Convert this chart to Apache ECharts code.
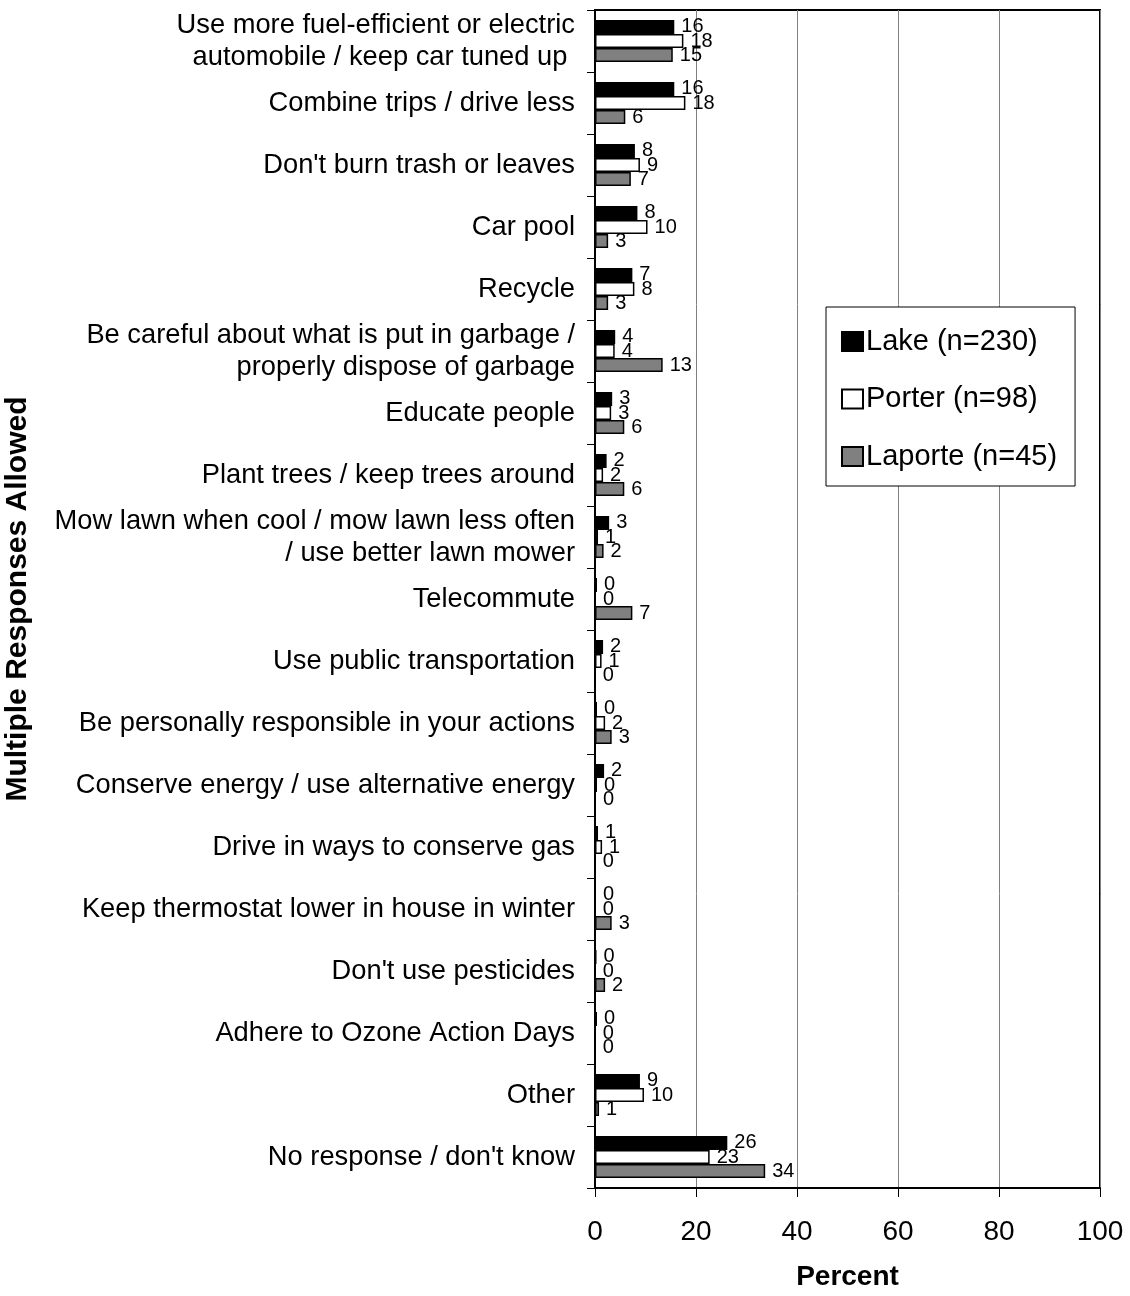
<!DOCTYPE html>
<html><head><meta charset="utf-8">
<script src="https://cdn.jsdelivr.net/npm/echarts@6/dist/echarts.min.js"></script>
<style>html,body{margin:0;padding:0;background:#fff}#c{width:1130px;height:1296px}</style>
</head><body><div id="c"></div>
<script>
const categories = [
  "Use more fuel-efficient or electric\nautomobile / keep car tuned up ",
  "Combine trips / drive less",
  "Don't burn trash or leaves",
  "Car pool",
  "Recycle",
  "Be careful about what is put in garbage /\nproperly dispose of garbage",
  "Educate people",
  "Plant trees / keep trees around",
  "Mow lawn when cool / mow lawn less often\n/ use better lawn mower",
  "Telecommute",
  "Use public transportation",
  "Be personally responsible in your actions",
  "Conserve energy / use alternative energy",
  "Drive in ways to conserve gas",
  "Keep thermostat lower in house in winter",
  "Don't use pesticides",
  "Adhere to Ozone Action Days",
  "Other",
  "No response / don't know"
];
const lake    = [15.7, 15.7, 7.9, 8.4, 7.4, 4.0, 3.4, 2.3, 2.8, 0.4, 1.6, 0.4, 1.8, 0.6, 0.1, 0.3, 0.4, 8.9, 26.2];
const porter  = [17.5, 17.9, 8.9, 10.4, 7.8, 3.9, 3.2, 1.6, 0.6, 0.1, 1.3, 2.0, 0.4, 1.4, 0.0, 0.0, 0.0, 9.7, 22.7];
const laporte = [15.4, 6.0, 7.1, 2.6, 2.6, 13.4, 5.8, 5.8, 1.7, 7.4, 0.0, 3.3, 0.1, 0.0, 3.3, 2.0, 0.0, 0.8, 33.7];
const seriesNames = ["Lake (n=230)", "Porter (n=98)", "Laporte (n=45)"];
const xTicks = [0, 20, 40, 60, 80, 100];

const FONT = "Liberation Sans, Arial, sans-serif";
const chart = echarts.init(document.getElementById('c'));
function mk(name, data, color) {
  return {
    name, type: 'bar', data,
    barGap: '0%', barCategoryGap: '32%',
    itemStyle: { color, borderColor: '#000', borderWidth: 1.5 },
    label: {
      show: true, position: 'right', distance: 7,
      fontFamily: FONT, fontSize: 20, color: '#000',
      formatter: p => Math.round(p.value)
    }
  };
}
chart.setOption({
  animation: false,
  backgroundColor: '#fff',
  textStyle: { fontFamily: FONT },
  grid: { left: 595, right: 30, top: 10, bottom: 108, show: true, borderColor: '#000', borderWidth: 2 },
  legend: {
    orient: 'vertical', left: 826, top: 307,
    padding: [20, 18, 15, 15], itemGap: 28.5,
    backgroundColor: '#fff', borderColor: '#000', borderWidth: 1,
    itemWidth: 21, itemHeight: 19, icon: 'rect',
    textStyle: { fontFamily: FONT, fontSize: 29, color: '#000', padding: [0,0,0,-2] },
    data: seriesNames
  },
  xAxis: {
    type: 'value', min: 0, max: 100, interval: 20,
    name: 'Percent', nameLocation: 'middle', nameGap: 75,
    nameTextStyle: { fontFamily: FONT, fontSize: 28, fontWeight: 'bold', color: '#000' },
    axisLine: { show: true, lineStyle: { color: '#000', width: 2 } },
    axisTick: { show: true, length: 9, lineStyle: { color: '#000', width: 1 } },
    axisLabel: { fontFamily: FONT, fontSize: 28, color: '#000', margin: 30, formatter: v => xTicks.includes(v) ? String(v) : '' },
    splitLine: { show: true, lineStyle: { color: '#808080', width: 1 } }
  },
  yAxis: {
    type: 'category', data: categories, inverse: true,
    name: 'Multiple Responses Allowed', nameLocation: 'middle', nameGap: 562, nameRotate: 90,
    nameTextStyle: { fontFamily: FONT, fontSize: 30, fontWeight: 'bold', color: '#000' },
    axisLine: { show: true, lineStyle: { color: '#000', width: 2 } },
    axisTick: { show: true, length: 8, lineStyle: { color: '#000', width: 1 } },
    axisLabel: { fontFamily: FONT, fontSize: 27.3, color: '#000', margin: 20, lineHeight: 32, align: 'right' }
  },
  series: [
    mk(seriesNames[0], lake, '#000000'),
    mk(seriesNames[1], porter, '#ffffff'),
    mk(seriesNames[2], laporte, '#808080')
  ]
});
</script></body></html>
